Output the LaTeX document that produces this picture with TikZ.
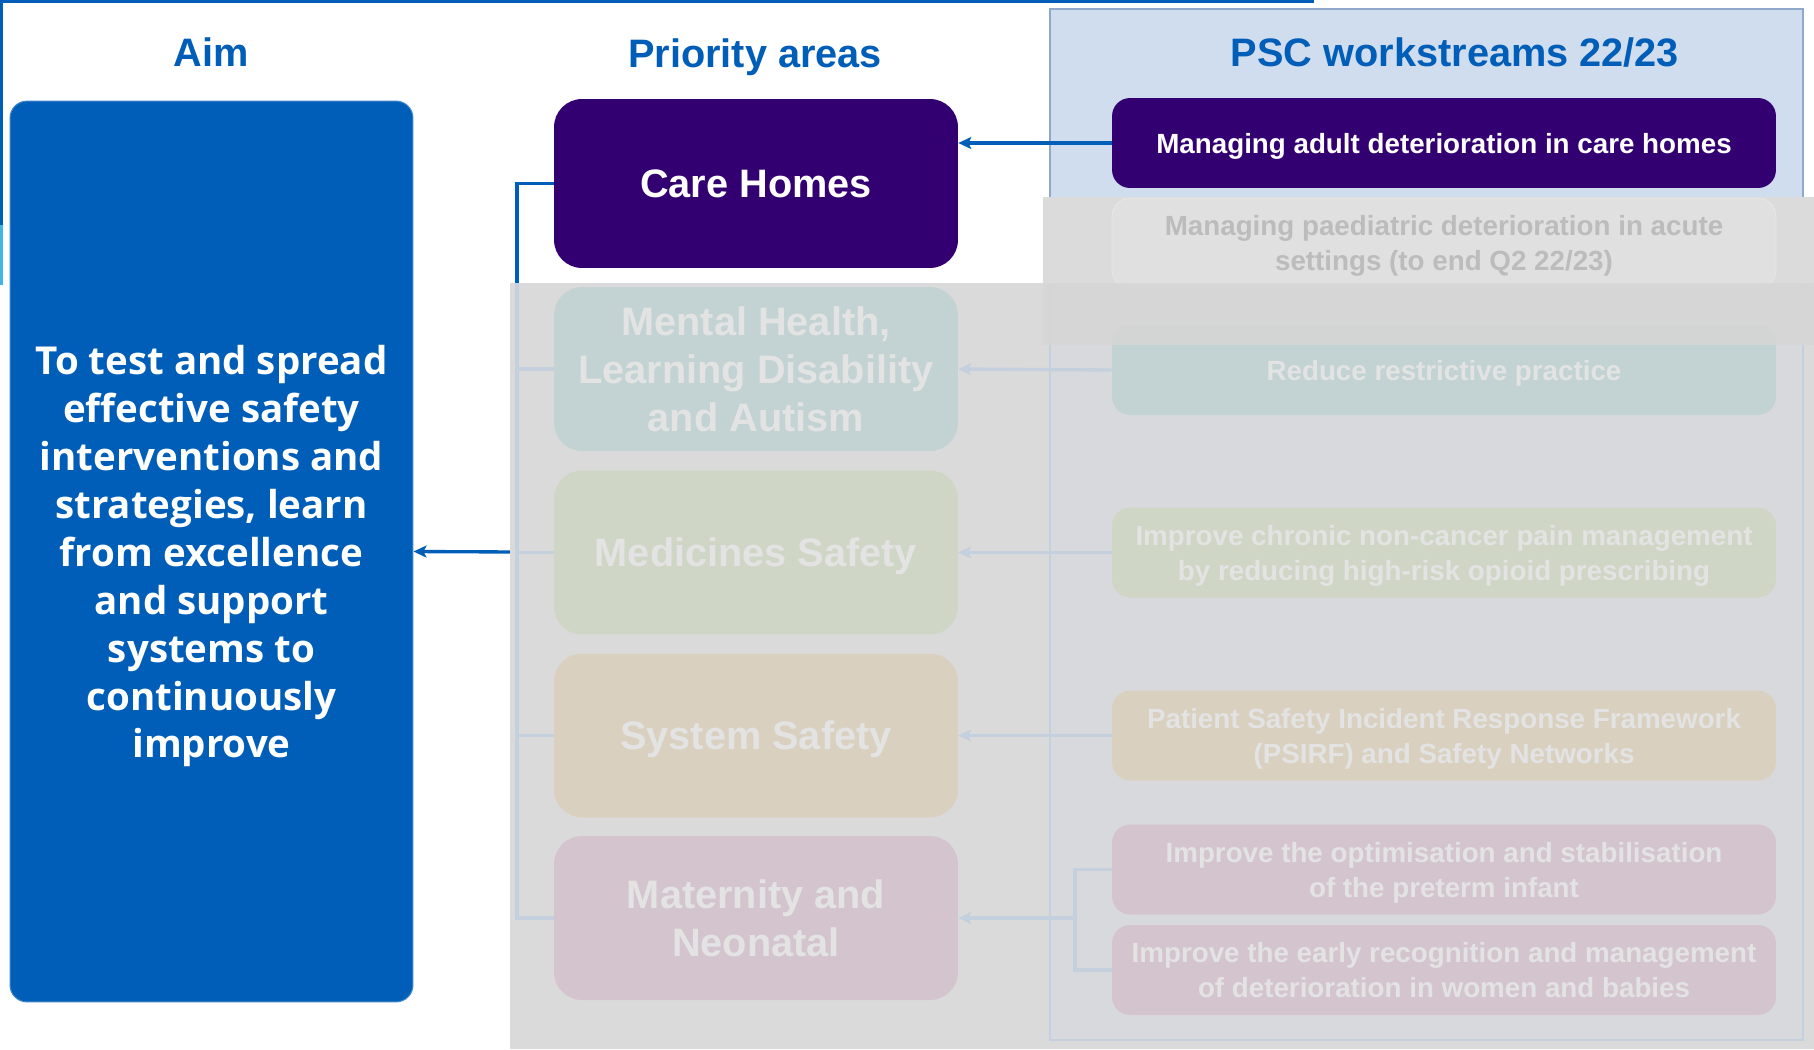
\documentclass[tikz,border=0pt]{standalone}
\usepackage{fontspec}
\setmainfont{Liberation Sans}
\newfontfamily\aimfont{Open Sans}
\usetikzlibrary{arrows.meta,positioning}
\definecolor{nhsblue}{RGB}{0,94,184}
\definecolor{nhslight}{RGB}{65,182,230}
\definecolor{nhspurple}{RGB}{51,0,114}
\definecolor{panelblue}{RGB}{207,221,238}
\definecolor{panelline}{RGB}{143,168,204}
\definecolor{veil}{RGB}{218,218,218}
\definecolor{veiltop}{RGB}{219,219,219}
\definecolor{veildeep}{RGB}{214,214,214}
\definecolor{veilpanel}{RGB}{216,217,221}
\definecolor{veilline}{RGB}{196,208,222}
\definecolor{paedfill}{RGB}{224,224,224}
\definecolor{paedline}{RGB}{232,232,232}
\definecolor{paedtext}{RGB}{188,188,188}
\definecolor{mhteal}{RGB}{195,211,211}
\definecolor{medgreen}{RGB}{208,214,198}
\definecolor{sysbeige}{RGB}{218,208,192}
\definecolor{matpink}{RGB}{212,196,206}
\definecolor{fadetext}{RGB}{227,227,227}
\tikzset{
	head/.style={text depth=0pt,font=\bfseries\fontsize{22.6}{27}\selectfont,text=nhsblue},
	aimbox/.style={fill=nhsblue,draw=nhsblue!75!white,line width=.6pt,rounded corners=.34cm,minimum width=8.06cm,minimum height=18.02cm,text depth=0pt,align=center,text=white,font=\aimfont\bfseries\fontsize{21.9}{27.3}\selectfont},
	area/.style={rounded corners=.56cm,minimum width=8.08cm,minimum height=3.28cm,text depth=0pt,align=center,text=fadetext,font=\bfseries\fontsize{22.6}{27.3}\selectfont},
	stream/.style={rounded corners=.36cm,minimum width=13.28cm,minimum height=1.8cm,text depth=0pt,align=center,text=fadetext,font=\bfseries\fontsize{15.8}{19.9}\selectfont},
	link/.style={line width=1.9pt,nhsblue},
	fadelink/.style={line width=1.9pt,veilline},
	tip/.style={-{Stealth[length=.26cm,width=.24cm,inset=.06cm]}},
}
\begin{document}
\begin{tikzpicture}[x=.02cm,y=-.02cm]
	\useasboundingbox(0,0)rectangle(1814,1049);
	\fill[white](0,0)rectangle(1814,1049);
	% slide edges
	\draw[nhsblue,line width=3.4pt](0,0)--(1314,0);
	\draw[nhsblue,line width=3.4pt](0,0)--(0,225);
	\draw[nhslight,line width=3.4pt](0,225)--(0,285);
	\filldraw[fill=panelblue,draw=panelline,line width=.8pt](1050,9)rectangle(1803,1040);
	\node[head](haim)at(211,52){Aim};
	\node[head](hpri)at(755,53){Priority areas};
	\node[head](hpsc)at(1455,52){PSC workstreams 22/23};
	\node[aimbox](aim)at(211.5,551.5){To test and spread\\effective safety\\interventions and\\strategies, learn\\from excellence\\and support\\systems to\\continuously\\improve};
	\node[area,fill=nhspurple,text=white,minimum height=3.38cm](care)at(756,183.5){Care Homes};
	\node[stream,fill=nhspurple,text=white](adult)at(1444,143){Managing adult deterioration in care homes};
	\coordinate(spine)at(517,283);
	\coordinate(hub)at(517,552);
	\draw[link](care.west)-|(spine);
	\draw[link,tip](hub)--(aim.east);
	\draw[link,tip](adult.west)--(adult.west-|care.east);
	% greyed-out part
	\fill[veil](510,283)rectangle(1814,1049);
	\fill[veilpanel](1050,283)rectangle(1803,1040);
	\draw[veilline,line width=.8pt](1050,283)--(1050,1040)--(1803,1040)--(1803,283);
	\fill[veiltop](1043,197)rectangle(1814,283);
	\node[stream,fill=paedfill,draw=paedline,text=paedtext](paed)at(1444,243){Managing paediatric deterioration in acute\\settings (to end Q2 22/23)};
	\node[area,fill=mhteal](mh)at(756,369){Mental Health,\\Learning Disability\\and Autism};
	\node[area,fill=medgreen](med)at(756,552.5){Medicines Safety};
	\node[area,fill=sysbeige](sys)at(756,735.5){System Safety};
	\node[area,fill=matpink](mat)at(756,918){Maternity and\\Neonatal};
	\node[stream,fill=mhteal](restrict)at(1444,370){Reduce restrictive practice};
	\node[stream,fill=medgreen](opioid)at(1444,552.5){Improve chronic non-cancer pain management\\by reducing high-risk opioid prescribing};
	\node[stream,fill=sysbeige](psirf)at(1444,735.5){Patient Safety Incident Response Framework\\(PSIRF) and Safety Networks};
	\node[stream,fill=matpink](preterm)at(1444,869.5){Improve the optimisation and stabilisation\\of the preterm infant};
	\node[stream,fill=matpink](early)at(1444,970){Improve the early recognition and management\\of deterioration in women and babies};
	\draw[fadelink](spine)|-(mat.west);
	\foreach\n in{mh,med,sys}{\draw[fadelink](\n.west-|spine)--(\n.west);}
	\draw[fadelink,tip](restrict.west)--(mh.east);
	\draw[fadelink,tip](opioid.west)--(med.east);
	\draw[fadelink,tip](psirf.west)--(sys.east);
	\coordinate(mj)at(1075,918);
	\draw[fadelink](preterm.west)-|(mj)|-(early.west);
	\draw[fadelink,tip](mj)--(mat.east);
	\fill[veildeep,fill opacity=.88](1043,283)rectangle(1814,345);
\end{tikzpicture}
\end{document}
